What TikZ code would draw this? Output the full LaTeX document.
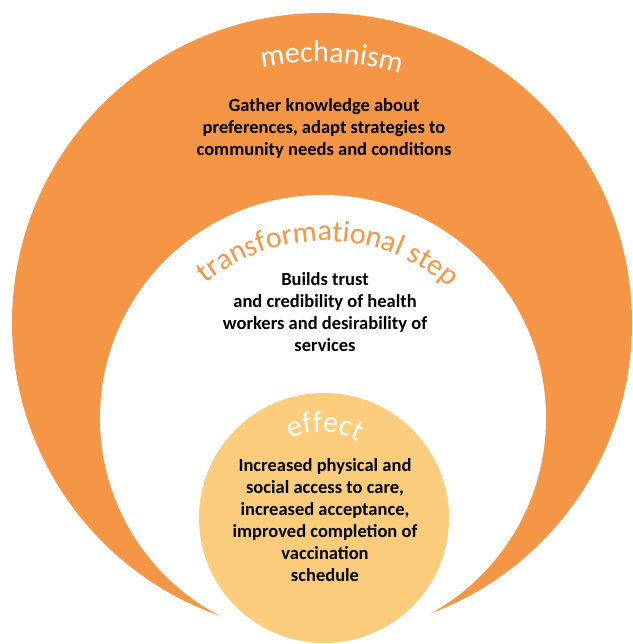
\documentclass[tikz,border=0pt]{standalone}
\usepackage{fontspec}
\setmainfont{Carlito}
\usetikzlibrary{positioning,decorations.text}
\definecolor{ringorange}{RGB}{244,150,70}
\definecolor{coreyellow}{RGB}{251,204,124}
\newcommand{\ringtitle}{\fontsize{30}{30}\selectfont}

\begin{document}
\begin{tikzpicture}[x=1pt,y=1pt]
	\tikzstyle{disc}=[circle, inner sep=0pt, draw=none]
\tikzstyle{body}=[align=center, font=\fontsize{18.5}{22}\selectfont\bfseries]
\tikzstyle{title}=[decorate, decoration={text along path, text align=center}]
  \useasboundingbox (0,0) rectangle (632,644);
  \node[disc, fill=ringorange, minimum size=620pt] (outer) at (322,321) {};
  \node[disc, fill=white, minimum size=446pt] (inner) at (323,226) {};
  \node[disc, fill=coreyellow, minimum size=250pt] (core) at (324,126) {};
  % centres of the curved titles
  \coordinate (mc) at (318,295);
  \coordinate (tc) at (325,214);
  \coordinate (ec) at (322,137);
  \path[title, decoration={text={|\ringtitle\color{white}|mechanism}}]
        ([shift={(130:287)}]mc) arc[start angle=130, end angle=44.6, radius=287];
  \path[title, decoration={text={|\ringtitle\color{ringorange}|transformational step}}]
        ([shift={(150:189)}]tc) arc[start angle=150, end angle=28, radius=189];
  \path[title, decoration={text={|\ringtitle\color{white}|effect}}]
        ([shift={(160:75)}]ec) arc[start angle=160, end angle=16, radius=75];
  \node[body] (mechtext) at (324,516) {Gather knowledge about\\preferences, adapt strategies to\\community needs and conditions};
  \node[body] (steptext) at (325,332) {Builds trust\\and credibility of health\\workers and desirability of\\services};
  \node[body] (coretext) at (325,124) {Increased physical and\\social access to care,\\increased acceptance,\\improved completion of\\vaccination\\schedule};

	\end{tikzpicture}
\end{document}
